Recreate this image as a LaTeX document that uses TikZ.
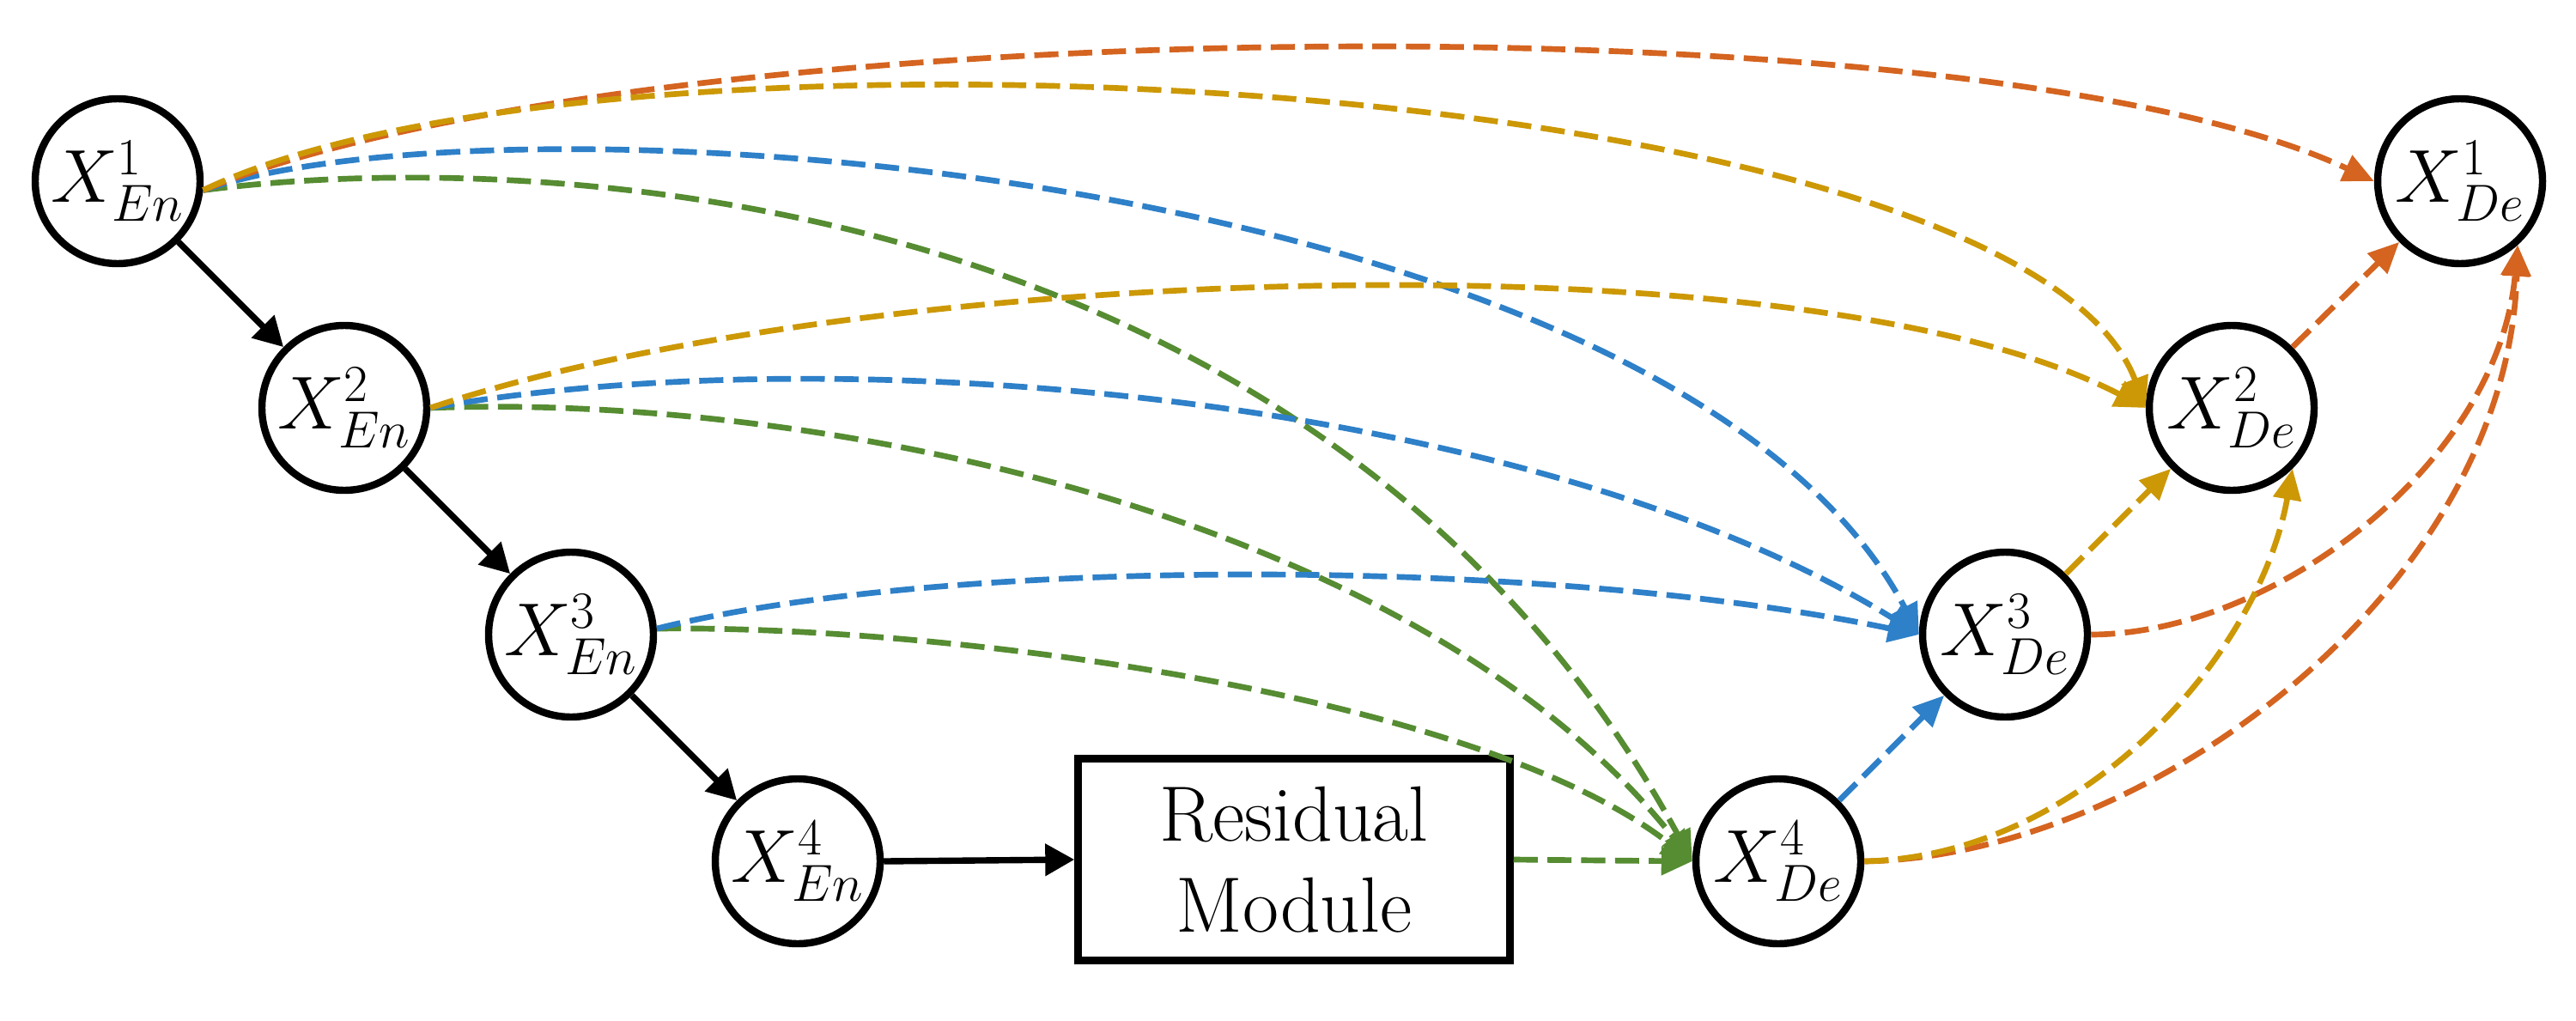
\documentclass[tikz,border=0pt]{standalone}
\usetikzlibrary{arrows.meta}
\definecolor{lienorange}{RGB}{212,100,32}
\definecolor{lienor}{RGB}{204,152,6}
\definecolor{lienbleu}{RGB}{46,128,200}
\definecolor{lienvert}{RGB}{86,140,50}

\begin{document}
\begin{tikzpicture}[
    feat/.style={circle, draw, line width=2.4pt, minimum size=1.92cm, inner sep=0pt, font=\fontsize{26}{30}\selectfont},
    resbox/.style={draw, line width=2.4pt, minimum width=5.03cm, minimum height=2.35cm, align=center, font=\fontsize{26}{30}\selectfont},
    flow/.style={line width=2.1pt, -{Triangle[length=0.34cm, width=0.36cm]}},
    skipline/.style={line width=1.9pt, dash pattern=on 8pt off 3.2pt, -{Triangle[length=0.36cm, width=0.32cm]}}
]
    \useasboundingbox (0, 0) rectangle (30, 11.88);

    % Encodeur
    \node[feat] (en1) at (1.37, 9.77) {$X^{1}_{En}$};
    \node[feat] (en2) at (4.01, 7.13) {$X^{2}_{En}$};
    \node[feat] (en3) at (6.65, 4.49) {$X^{3}_{En}$};
    \node[feat] (en4) at (9.29, 1.85) {$X^{4}_{En}$};

    % Module residuel
    \node[resbox] (res) at (15.07, 1.87) {Residual\\Module};

    % Decodeur
    \node[feat] (de4) at (20.71, 1.85) {$X^{4}_{De}$};
    \node[feat] (de3) at (23.35, 4.49) {$X^{3}_{De}$};
    \node[feat] (de2) at (25.99, 7.13) {$X^{2}_{De}$};
    \node[feat] (de1) at (28.65, 9.77) {$X^{1}_{De}$};

    % Chemin principal
    \draw[flow] (en1.-45) -- (en2.135);
    \draw[flow] (en2.-45) -- (en3.135);
    \draw[flow] (en3.-45) -- (en4.135);
    \draw[flow] (en4.east) -- (res.west);

    % Liens vers X4
    \draw[skipline, lienvert] (en1.-6) .. controls (6.5, 10.2) and (15.5, 9.6) .. (de4.west);
    \draw[skipline, lienvert] (en2.east) .. controls (9.5, 7.3) and (16.5, 5.9) .. (de4.west);
    \draw[skipline, lienvert] (en3.4) .. controls (11, 4.6) and (17.2, 3.8) .. (de4.west);
    \draw[skipline, lienvert] (res.east) -- (de4.west);

    % Liens vers X3
    \draw[skipline, lienbleu] (en1.-6) .. controls (6, 10.9) and (19.5, 9.9) .. (de3.west);
    \draw[skipline, lienbleu] (en2.east) .. controls (10, 8.0) and (18, 7.2) .. (de3.west);
    \draw[skipline, lienbleu] (en3.4) .. controls (11, 5.4) and (18, 5.4) .. (de3.west);
    \draw[skipline, lienbleu] (de4.45) -- (de3.225);

    % Liens vers X1
    \draw[skipline, lienorange] (en1.-6) .. controls (7.5, 11.75) and (23, 11.95) .. (de1.west);
    \draw[skipline, lienorange] (de2.45) -- (de1.225);
    \draw[skipline, lienorange] (de3.east) .. controls (26.5, 4.5) and (29.1, 6.5) .. (de1.-48);
    \draw[skipline, lienorange] (de4.east) .. controls (25, 1.9) and (29.2, 5.0) .. (de1.-48);

    % Liens vers X2
    \draw[skipline, lienor] (en1.-6) .. controls (7, 11.9) and (23.5, 11.05) .. (de2.west);
    \draw[skipline, lienor] (en2.east) .. controls (10, 8.8) and (21, 9.2) .. (de2.west);
    \draw[skipline, lienor] (de3.45) -- (de2.225);
    \draw[skipline, lienor] (de4.east) .. controls (24.2, 1.9) and (26.3, 4.2) .. (de2.-45);
\end{tikzpicture}
\end{document}
